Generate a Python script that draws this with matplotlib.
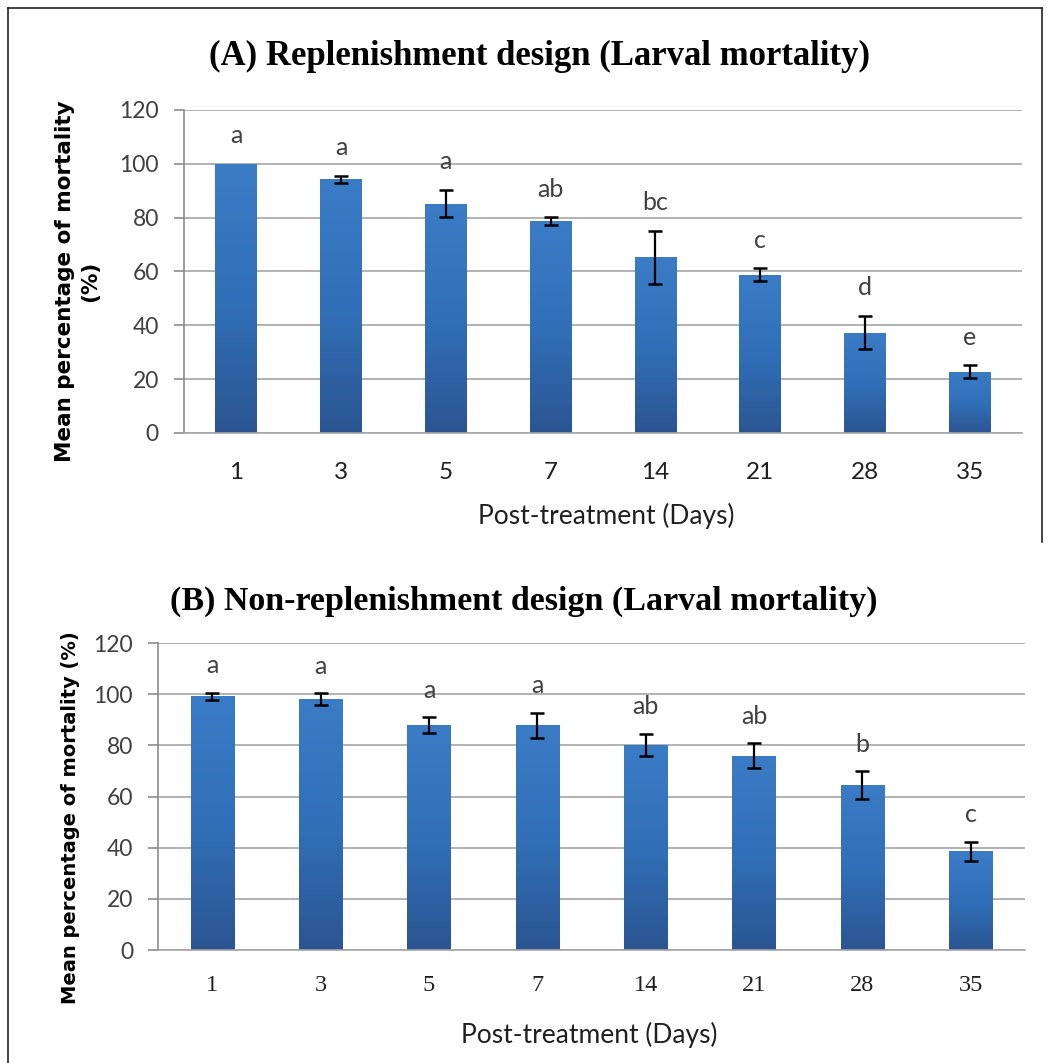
import numpy as np
import matplotlib
matplotlib.use("Agg")
import matplotlib.pyplot as plt
from matplotlib.colors import LinearSegmentedColormap
from matplotlib.lines import Line2D

# data
days = ['1', '3', '5', '7', '14', '21', '28', '35']

mort_a = [100, 94.3, 85.2, 78.7, 65.2, 58.7, 37.3, 22.7]
err_a = [0, 1.3, 5.0, 1.4, 10.0, 2.4, 6.2, 2.4]
letters_a = ['a', 'a', 'a', 'ab', 'bc', 'c', 'd', 'e']

mort_b = [99.2, 98.1, 87.9, 87.8, 80.2, 76.0, 64.5, 38.6]
err_b = [1.4, 2.2, 3.0, 5.0, 4.4, 4.8, 5.3, 3.7]
letters_b = ['a', 'a', 'a', 'a', 'ab', 'ab', 'b', 'c']

yticks = [0, 20, 40, 60, 80, 100, 120]

SANS = 'Lato'
cmap = LinearSegmentedColormap.from_list('excel', ['#2b5592', '#3170b8', '#3b7cc6'])
grad = np.linspace(0, 1, 256).reshape(-1, 1)


def draw_panel(ax, vals, errs, letters, xtick_font, xpad):
    x = np.arange(len(days))
    bars = ax.bar(x, vals, width=0.4, color='#3372bb', zorder=2)
    for b in bars:
        x0, h, w = b.get_x(), b.get_height(), b.get_width()
        im = ax.imshow(grad, extent=[x0, x0 + w, 0, h], origin='lower',
                       cmap=cmap, aspect='auto', zorder=2.1)
        im.set_clip_path(b)
    has_err = [i for i in range(len(vals)) if errs[i] > 0]
    ax.errorbar(x[has_err], np.array(vals)[has_err], yerr=np.array(errs)[has_err],
                fmt='none', ecolor='black', elinewidth=1.6, capsize=5,
                capthick=1.8, zorder=3)
    for i in range(len(vals)):
        ax.text(x[i], vals[i] + errs[i] + 10.5, letters[i], ha='center', va='center',
                fontsize=18, color='#404040', family=SANS)

    ax.set_xlim(-0.5, len(days) - 0.5)
    ax.set_ylim(0, 120)
    ax.set_yticks(yticks)
    ax.set_xticks(x)
    ax.set_xticklabels(days)
    ax.yaxis.grid(True, color='#a6a6a6', linewidth=1.2, zorder=0)
    ax.set_axisbelow(True)
    for s in ['top', 'right']:
        ax.spines[s].set_visible(False)
    ax.spines['left'].set_color('#8c8c8c')
    ax.spines['bottom'].set_color('#a6a6a6')
    ax.spines['left'].set_linewidth(1.2)
    ax.spines['bottom'].set_linewidth(1.2)
    ax.tick_params(axis='y', length=7, width=1.2, color='#8c8c8c', pad=11,
                   labelsize=16.5, labelcolor='#404040')
    ax.tick_params(axis='x', length=0, pad=xpad, labelcolor='#202020')
    for t in ax.get_yticklabels():
        t.set_family(SANS)
    for t in ax.get_xticklabels():
        t.set_family(xtick_font)
        t.set_fontsize(17.5)


fig = plt.figure(figsize=(10.5, 10.63), dpi=100)

# panel A
ax1 = fig.add_axes([0.1752, 0.5927, 0.7983, 0.3039])
draw_panel(ax1, mort_a, err_a, letters_a, SANS, 21)
ax1.set_xlabel('Post-treatment (Days)', fontsize=19, family=SANS, color='#202020')
ax1.xaxis.set_label_coords(0.504, -0.215)
ax1.set_ylabel('Mean percentage of mortality\n(%)', fontsize=15.5,
               fontweight='bold', family='DejaVu Sans', linespacing=1.35)
ax1.yaxis.set_label_coords(-0.1, 0.47)
fig.text(0.514, 0.947, '(A) Replenishment design (Larval mortality)',
         ha='center', va='center', fontsize=25, fontweight='bold',
         family='Liberation Serif')

# panel B
ax2 = fig.add_axes([0.1505, 0.1063, 0.8257, 0.2888])
draw_panel(ax2, mort_b, err_b, letters_b, 'Liberation Serif', 18)
ax2.set_xlabel('Post-treatment (Days)', fontsize=19, family=SANS, color='#202020')
ax2.xaxis.set_label_coords(0.497, -0.235)
ax2.set_ylabel('Mean percentage of mortality (%)', fontsize=14,
               fontweight='bold', family='DejaVu Sans')
ax2.yaxis.set_label_coords(-0.09, 0.43)
fig.text(0.499, 0.434, '(B) Non-replenishment design (Larval mortality)',
         ha='center', va='center', fontsize=24.5, fontweight='bold',
         family='Liberation Serif')

# outer frame
fig.add_artist(Line2D([0.0076, 0.0076], [0.0, 0.9925], color='#222222', lw=1.2))
fig.add_artist(Line2D([0.0076, 0.992], [0.9925, 0.9925], color='#222222', lw=1.2))
fig.add_artist(Line2D([0.992, 0.992], [0.9925, 0.49], color='#222222', lw=1.2))

fig.savefig('out.png', dpi=100)
